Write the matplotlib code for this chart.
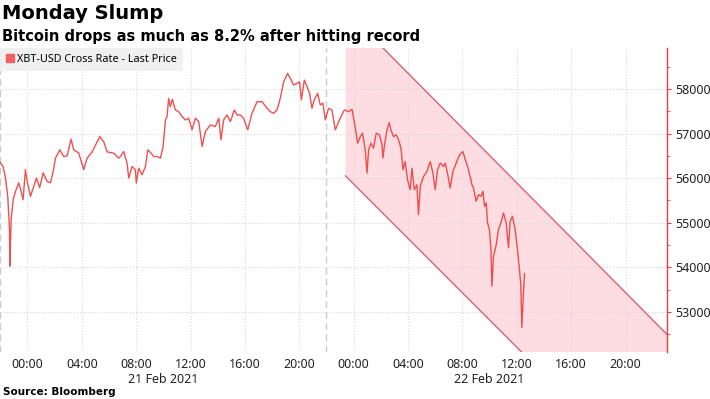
import numpy as np
import matplotlib
matplotlib.use('Agg')
import matplotlib.pyplot as plt
from matplotlib.patches import Patch
from matplotlib.ticker import MultipleLocator

# hours since 21 Feb 2021 00:00, XBT-USD last price
hours = [-1.99, -1.79, -1.62, -1.45, -1.32, -1.30, -1.20, -1.05, -0.88, -0.64,
         -0.46, -0.32, -0.15, -0.02, 0.22, 0.46, 0.66, 0.90, 1.15, 1.45,
         1.69, 1.89, 2.06, 2.38, 2.67, 2.92, 3.21, 3.40, 3.77, 4.14,
         4.39, 4.76, 5.32, 5.61, 5.86, 6.35, 6.71, 6.84, 7.08, 7.33,
         7.45, 7.70, 7.94, 8.01, 8.18, 8.43, 8.68, 8.85, 9.10, 9.29,
         9.54, 9.78, 9.98, 10.15, 10.27, 10.39, 10.51, 10.66, 10.88, 11.13,
         11.38, 11.62, 11.86, 12.11, 12.35, 12.60, 12.85, 13.09, 13.46, 13.82,
         14.07, 14.24, 14.43, 14.68, 14.93, 15.22, 15.42, 15.66, 15.90, 16.20,
         16.52, 16.89, 17.26, 17.63, 17.87, 18.11, 18.36, 18.60, 18.85, 19.14,
         19.34, 19.58, 19.83, 20.02, 20.15, 20.37, 20.57, 20.76, 20.93, 21.10,
         21.35, 21.54, 21.74, 21.91, 22.15, 22.40, 22.65, 23.01, 23.31, 23.63,
         23.88, 24.12, 24.29, 24.49, 24.65, 24.85, 24.98, 25.10, 25.27, 25.46,
         25.66, 25.90, 26.08, 26.15, 26.27, 26.45, 26.62, 26.74, 26.93, 27.13,
         27.30, 27.48, 27.63, 27.79, 27.96, 28.16, 28.29, 28.46, 28.65, 28.77,
         28.90, 29.14, 29.39, 29.63, 29.83, 30.00, 30.17, 30.37, 30.61, 30.74,
         30.90, 31.10, 31.30, 31.54, 31.79, 32.04, 32.21, 32.38, 32.57, 32.70,
         32.82, 33.01, 33.18, 33.36, 33.51, 33.63, 33.75, 33.85, 33.99, 34.10,
         34.17, 34.29, 34.49, 34.65, 34.83, 35.02, 35.22, 35.39, 35.51, 35.68,
         35.88, 36.05, 36.20, 36.30, 36.37, 36.49, 36.57]
price = [56345, 56262, 56010, 55590, 54845, 54025, 55070, 55517, 55703, 55897,
         55700, 55517, 56190, 55926, 55590, 55816, 56002, 55785, 56120, 55926,
         55897, 56150, 56450, 56635, 56485, 56500, 56875, 56635, 56565, 56190,
         56450, 56590, 56933, 56820, 56590, 56560, 56450, 56485, 56597, 56338,
         56002, 56262, 56188, 55890, 56226, 56076, 56262, 56635, 56560, 56485,
         56485, 56450, 56710, 57306, 57380, 57792, 57604, 57770, 57530, 57492,
         57380, 57306, 57345, 57083, 57345, 57270, 56710, 57045, 57195, 57157,
         57345, 56860, 57306, 57418, 57270, 57530, 57418, 57418, 57345, 57083,
         57455, 57716, 57716, 57568, 57492, 57455, 57530, 57792, 58163, 58350,
         58239, 58090, 58127, 58163, 57754, 58200, 58052, 57903, 57568, 57754,
         57903, 57642, 57680, 57306, 57568, 57530, 57083, 57345, 57530, 57492,
         57546, 57120, 56785, 56933, 57009, 56635, 56114, 56635, 56785, 56673,
         57009, 56971, 56747, 56450, 56747, 57083, 57247, 57083, 56933, 56971,
         56860, 56673, 56188, 56375, 55964, 55740, 56226, 55740, 55852, 55181,
         55815, 56038, 56150, 56374, 56114, 55740, 56188, 56338, 56262, 56338,
         56114, 55778, 56150, 56338, 56523, 56597, 56412, 56262, 56038, 55852,
         55778, 55480, 55629, 55592, 55703, 55368, 55443, 54996, 54845, 54398,
         53577, 54249, 54510, 54845, 54996, 55219, 54996, 54436, 55033, 55145,
         54845, 54398, 53950, 53577, 52653, 53430, 53860]

# downward channel drawn on the chart
chan_x = [23.4, 47.2]
chan_upper = [59770, 52450]
chan_lower = [56050, 48790]

tick_hours = list(range(0, 48, 4))
tick_labels = ['00:00', '04:00', '08:00', '12:00', '16:00', '20:00'] * 2
day_pos = [10, 34]
day_labels = ['21 Feb 2021', '22 Feb 2021']
day_breaks = [-2, 22]

red = '#ee3d3d'
fig = plt.figure(figsize=(7.10, 3.99), dpi=100)
ax = fig.add_axes([0.0, 0.1178, 0.9394, 0.7619])

ax.fill_between(chan_x, chan_lower, chan_upper, color='#fedde2', lw=0, zorder=0.3)
ax.plot(chan_x, chan_upper, color='#d9627a', lw=1.0, zorder=1)
ax.plot(chan_x, chan_lower, color='#d9627a', lw=1.0, zorder=1)

ax.plot(hours, price, color=red, lw=1.0, alpha=0.9, zorder=3)

for d in day_breaks:
    ax.axvline(d, color='#cccccc', lw=1.0, ls=(0, (5, 3)), zorder=0.6)

ax.set_xlim(-2.02, 47.05)
ax.set_ylim(52100, 58920)
ax.set_axisbelow(True)
ax.grid(True, color='#d8d8d8', lw=0.8, ls=':')

ax.set_xticks(tick_hours)
ax.set_xticklabels(tick_labels, fontsize=9, family='Noto Sans', color='#222222')
ax.tick_params(axis='x', length=0, pad=4)
for p, lab in zip(day_pos, day_labels):
    ax.text(p, -0.069, lab, transform=ax.get_xaxis_transform(), ha='center', va='top',
            fontsize=9, family='Noto Sans', color='#222222')

ax.yaxis.tick_right()
ax.yaxis.set_major_locator(MultipleLocator(1000))
ax.yaxis.set_minor_locator(MultipleLocator(500))
ax.tick_params(axis='y', which='major', length=3, color=red, labelsize=9, pad=3,
               labelcolor='#222222')
ax.tick_params(axis='y', which='minor', length=2, color=red)
for lab in ax.get_yticklabels():
    lab.set_family('Noto Sans')

for s in ['top', 'left', 'bottom']:
    ax.spines[s].set_visible(False)
ax.spines['right'].set_color(red)
ax.spines['right'].set_linewidth(1.0)

leg = ax.legend([Patch(color='#f06060')], ['XBT-USD Cross Rate - Last Price'],
                loc='upper left', bbox_to_anchor=(0, 1), borderaxespad=0,
                frameon=True, fancybox=False, handlelength=0.7, handleheight=0.7,
                handletextpad=0.35, borderpad=0.55,
                prop={'family': 'Noto Sans', 'size': 7.8})
leg.get_frame().set_facecolor('#f0f0f0')
leg.get_frame().set_edgecolor('none')
leg.get_frame().set_alpha(1)

fig.text(0.003, 0.99, 'Monday Slump', fontsize=14, fontweight='bold',
         family='DejaVu Sans', va='top', ha='left')
fig.text(0.003, 0.928, 'Bitcoin drops as much as 8.2% after hitting record', fontsize=10.5,
         fontweight='bold', family='DejaVu Sans', va='top', ha='left')
fig.text(0.004, 0.005, 'Source: Bloomberg', fontsize=7.5, fontweight='bold',
         family='DejaVu Sans', va='bottom', ha='left')

fig.savefig('out.png', dpi=100)
